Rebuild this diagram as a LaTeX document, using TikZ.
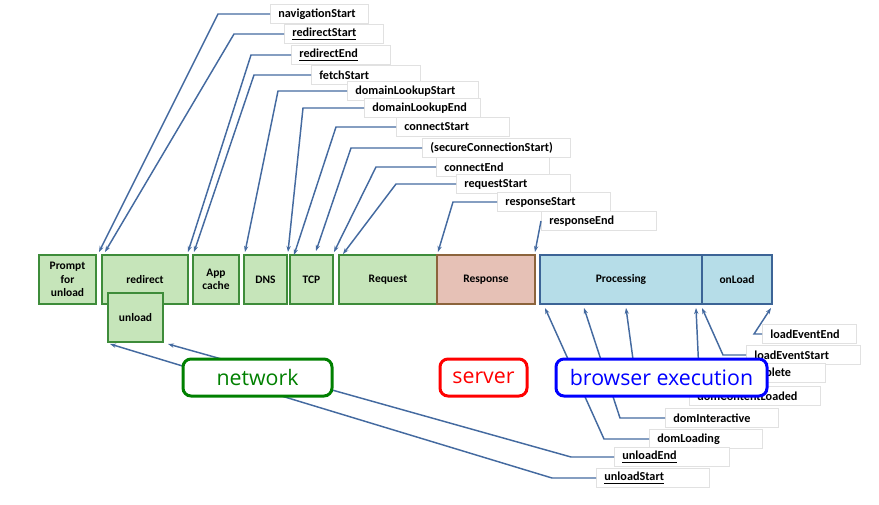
\documentclass[tikz,border=0pt]{standalone}
\usepackage{fontspec}
\setmainfont{Carlito}
\newfontfamily\bigfont{Open Sans}
\usetikzlibrary{arrows.meta}
\definecolor{gfill}{RGB}{198,229,186}
\definecolor{gline}{RGB}{62,140,58}
\definecolor{rfill}{RGB}{230,193,182}
\definecolor{rline}{RGB}{140,100,60}
\definecolor{bfill}{RGB}{182,221,232}
\definecolor{bline}{RGB}{60,100,150}
\definecolor{cline}{RGB}{68,106,160}
\definecolor{lblline}{RGB}{225,225,225}
\definecolor{netcol}{RGB}{0,128,0}
\definecolor{srvcol}{RGB}{255,0,0}
\definecolor{brwcol}{RGB}{0,0,255}
\tikzset{
  phase/.style={draw, line width=1.5pt, inner sep=0pt, minimum height=36.75pt, align=center,
    font=\fontsize{8.6}{10}\selectfont\bfseries},
  gbox/.style={phase, draw=gline, fill=gfill},
  rbox/.style={phase, draw=rline, fill=rfill},
  bbox/.style={phase, draw=bline, fill=bfill},
  lbl/.style={draw=lblline, line width=0.5pt, fill=white, anchor=west, inner xsep=6pt, inner ysep=0pt,
    minimum height=14pt, align=left, text width=#1,
    font=\fontsize{9.15}{11}\selectfont\bfseries},
  conn/.style={draw=cline, line width=1.1pt, -{Stealth[length=4.5pt,width=3.2pt]}},
  big/.style={draw=#1, text=#1, line width=2.25pt, rounded corners=6pt, fill=white,
    minimum height=27.75pt, inner sep=0pt, font=\bigfont\fontsize{16}{19}\selectfont},
}
\begin{document}
\begin{tikzpicture}[x=0.75pt,y=-0.75pt]
\useasboundingbox (0,0) rectangle (879,504);
% target coordinates
\coordinate (tNav) at (99,252);
\coordinate (tRS) at (105,252);
\coordinate (tRE) at (188,252);
\coordinate (tFS) at (194,252);
\coordinate (tDLS) at (245,252);
\coordinate (tDLE) at (288,252);
\coordinate (tCS) at (294,255);
\coordinate (tSCS) at (316,251);
\coordinate (tCE) at (334,252);
\coordinate (tReq) at (343,254);
\coordinate (tRsS) at (438,252);
\coordinate (tRsE) at (535,252);
\coordinate (tLEE) at (771,308);
\coordinate (tLES) at (702,308);
\coordinate (tDC) at (696,308);
\coordinate (tDCL) at (626,308);
\coordinate (tDI) at (584,308);
\coordinate (tDL) at (545,308);
\coordinate (tUE) at (168,344);
\coordinate (tUS) at (110,344);
% corner coordinates
\coordinate (cNav) at (218,14);
\coordinate (cRS) at (234,34);
\coordinate (cRE) at (251,55);
\coordinate (cFS) at (254,75);
\coordinate (cDLS) at (278,91);
\coordinate (cDLE) at (303,108);
\coordinate (cCS) at (336,127);
\coordinate (cSCS) at (351,148);
\coordinate (cCE) at (376,167);
\coordinate (cReq) at (396,184);
\coordinate (cRsS) at (453,202);
\coordinate (cLEE) at (754,334);
\coordinate (cLES) at (723,355);
\coordinate (cDC) at (699,373);
\coordinate (cDCL) at (638,396);
\coordinate (cDI) at (620,418);
\coordinate (cDL) at (604,439);
\coordinate (cUE) at (571,457);
\coordinate (cUS) at (552,478);

% phase boxes
\node[gbox, minimum width=42.75pt] (prompt) at (67.5,279.5) {Prompt\\for\\unload};
\node[gbox, minimum width=64.5pt] (redirect) at (145,279.5) {redirect};
\node[gbox, minimum width=41.25pt] (unload) at (135.5,317.5) {unload};
\node[gbox, minimum width=34.5pt] (appcache) at (216,279.5) {App\\cache};
\node[gbox, minimum width=32.25pt] (dns) at (265.5,279.5) {DNS};
\node[gbox, minimum width=32.25pt] (tcp) at (311.5,279.5) {TCP};
\node[gbox, minimum width=73.5pt] (request) at (388,279.5) {Request};
\node[rbox, minimum width=73.5pt] (response) at (486,279.5) {Response};
\node[bbox, minimum width=121.5pt] (processing) at (621,279.5) {Processing};
\node[bbox, minimum width=52.5pt] (onload) at (737,279.5) {onLoad};

% labels (top)
\node[lbl=61.5pt] (lNav) at (270,14) {navigationStart};
\node[lbl=62.25pt] (lRS) at (284,34) {\underline{redirectStart}};
\node[lbl=62.25pt] (lRE) at (291,55) {\underline{redirectEnd}};
\node[lbl=69.75pt] (lFS) at (311,75) {fetchStart};
\node[lbl=86.25pt] (lDLS) at (347,91) {domainLookupStart};
\node[lbl=75pt] (lDLE) at (364,108) {domainLookupEnd};
\node[lbl=72.75pt] (lCS) at (396,127) {connectStart};
\node[lbl=99pt] (lSCS) at (422,148) {(secureConnectionStart)};
\node[lbl=72.75pt] (lCE) at (436,167) {connectEnd};
\node[lbl=73.5pt] (lReq) at (456,184) {requestStart};
\node[lbl=72.75pt] (lRsS) at (497,202) {responseStart};
\node[lbl=74.25pt] (lRsE) at (541,221) {responseEnd};
% labels (bottom)
\node[lbl=58.5pt] (lLEE) at (762,334) {loadEventEnd};
\node[lbl=73.5pt] (lLES) at (746,355) {loadEventStart};
\node[lbl=73.5pt] (lDC) at (711,373) {domComplete};
\node[lbl=86.25pt] (lDCL) at (689,396) {domContentLoaded};
\node[lbl=72.75pt] (lDI) at (665,418) {domInteractive};
\node[lbl=72.75pt] (lDL) at (649,439) {domLoading};
\node[lbl=74.25pt] (lUE) at (614,457) {\underline{unloadEnd}};
\node[lbl=72.75pt] (lUS) at (596,478) {\underline{unloadStart}};

% connectors
\draw[conn] (lNav.west) -- (cNav) -- (tNav);
\draw[conn] (lRS.west) -- (cRS) -- (tRS);
\draw[conn] (lRE.west) -- (cRE) -- (tRE);
\draw[conn] (lFS.west) -- (cFS) -- (tFS);
\draw[conn] (lDLS.west) -- (cDLS) -- (tDLS);
\draw[conn] (lDLE.west) -- (cDLE) -- (tDLE);
\draw[conn] (lCS.west) -- (cCS) -- (tCS);
\draw[conn] (lSCS.west) -- (cSCS) -- (tSCS);
\draw[conn] (lCE.west) -- (cCE) -- (tCE);
\draw[conn] (lReq.west) -- (cReq) -- (tReq);
\draw[conn] (lRsS.west) -- (cRsS) -- (tRsS);
\draw[conn] (lRsE.west) -- (tRsE);
\draw[conn] (lLEE.west) -- (cLEE) -- (tLEE);
\draw[conn] (lLES.west) -- (cLES) -- (tLES);
\draw[conn] (lDC.west) -- (cDC) -- (tDC);
\draw[conn] (lDCL.west) -- (cDCL) -- (tDCL);
\draw[conn] (lDI.west) -- (cDI) -- (tDI);
\draw[conn] (lDL.west) -- (cDL) -- (tDL);
\draw[conn] (lUE.west) -- (cUE) -- (tUE);
\draw[conn] (lUS.west) -- (cUS) -- (tUS);

% category boxes
\node[big=netcol, minimum width=111.75pt] (network) at (257.5,377.5) {network};
\node[big=srvcol, minimum width=65.25pt] (server) at (483.5,377.5) {server};
\node[big=brwcol, minimum width=158.25pt] (browser) at (661.5,377.5) {browser execution};
\end{tikzpicture}
\end{document}
